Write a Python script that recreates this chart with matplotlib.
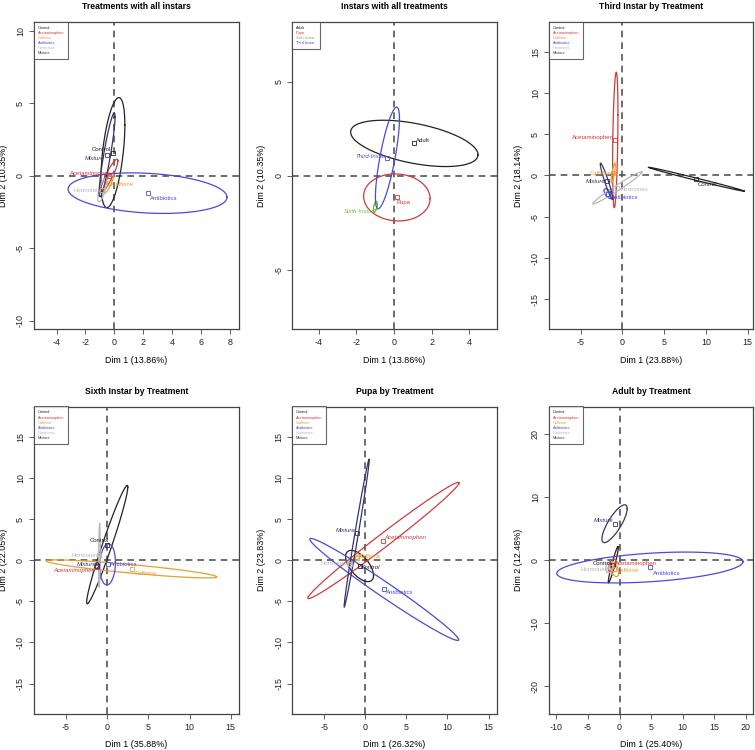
import numpy as np
import matplotlib
matplotlib.use("Agg")
import matplotlib.pyplot as plt
from matplotlib.lines import Line2D

plt.rcParams["font.family"] = ["Liberation Sans", "DejaVu Sans"]
plt.rcParams["axes.unicode_minus"] = False

# group names
treatments = ["Control", "Acetaminophen", "Caffeine", "Antibiotics", "Hormones", "Mixture"]
instars = ["Adult", "Pupa", "Sixth-Instar", "Third-Instar"]

# panel titles and axis percentages
titles = ["Treatments with all instars", "Instars with all treatments", "Third Instar by Treatment",
          "Sixth Instar by Treatment", "Pupa by Treatment", "Adult by Treatment"]
dim1_pct = [13.86, 13.86, 23.88, 35.88, 26.32, 25.40]
dim2_pct = [10.35, 10.35, 18.14, 22.05, 23.83, 12.48]

# group centres (Dim 1, Dim 2) and ellipse spread (sd x, sd y, correlation)
all_cx = [-0.1, -0.35, -0.4, 2.3, -0.85, -0.5]
all_cy = [1.6, 0.0, -0.5, -1.2, -1.0, 1.45]
all_sx = [0.83, 0.6, 0.35, 5.5, 0.3, 0.55]
all_sy = [3.8, 1.15, 0.7, 1.4, 0.8, 2.9]
all_rho = [0.5, 0.9, 0.8, -0.2, 0.7, 0.9]

inst_cx = [1.08, 0.15, -1.0, -0.35]
inst_cy = [1.72, -1.15, -1.65, 0.95]
inst_sx = [3.39, 1.77, 0.1, 0.64]
inst_sy = [1.23, 1.25, 0.3, 2.7]
inst_rho = [-0.49, -0.05, 0.5, 0.77]

third_cx = [8.85, -0.85, -1.1, -1.7, -0.6, -1.9]
third_cy = [-0.45, 4.3, 0.3, -2.2, -1.5, -0.7]
third_sx = [5.75, 0.32, 0.25, 0.5, 2.95, 0.75]
third_sy = [1.45, 8.2, 1.2, 0.6, 1.95, 2.2]
third_rho = [-0.995, 0.37, 0.8, -0.6, 0.98, -0.95]

sixth_cx = [0.0, -1.25, 2.95, 0.05, -0.95, -1.25]
sixth_cy = [1.9, -0.8, -1.05, -0.5, 0.6, -0.65]
sixth_sx = [2.5, 0.3, 10.35, 0.95, 0.1, 0.25]
sixth_sy = [7.2, 0.3, 1.1, 2.5, 3.9, 0.35]
sixth_rho = [0.97, 0.3, -0.88, 0.1, 0.3, 0.3]

pupa_cx = [-0.7, 2.2, -1.0, 2.3, -1.9, -1.05]
pupa_cy = [-0.7, 2.4, 0.3, -3.55, -0.4, 3.3]
pupa_sx = [1.7, 9.2, 0.5, 9.05, 0.3, 1.53]
pupa_sy = [1.9, 7.07, 0.4, 6.2, 0.3, 9.0]
pupa_rho = [-0.6, 0.99, 0.8, -0.985, 0.3, 0.99]

adult_cx = [-1.0, -1.2, -0.85, 4.8, -1.6, -0.8]
adult_cy = [-0.7, -0.8, -1.4, -1.15, -1.1, 5.8]
adult_sx = [0.8, 0.6, 0.7, 14.75, 0.6, 2.0]
adult_sy = [2.9, 1.0, 1.2, 2.45, 0.9, 3.0]
adult_rho = [0.95, 0.5, -0.5, 0.38, 0.2, 0.8]

# axis ranges and ticks
xlims = [(-5.56, 8.6), (-5.42, 5.47), (-8.8, 15.7), (-8.9, 15.96), (-8.9, 16.0), (-11.2, 21.2)]
ylims = [(-10.6, 10.64), (-8.15, 8.18), (-18.6, 18.6), (-18.7, 18.7), (-18.7, 18.7), (-24.4, 24.4)]
xticks = [range(-4, 9, 2), range(-4, 5, 2), range(-5, 16, 5), range(-5, 16, 5), range(-5, 16, 5), range(-10, 21, 5)]
yticks = [range(-10, 11, 5), range(-5, 6, 5), range(-15, 16, 5), range(-15, 16, 5), range(-15, 16, 5), range(-20, 21, 10)]

treat_cols = ["#222222", "#D03B3B", "#E8A033", "#4A4AD8", "#B8B8B8", "#35356E"]
inst_cols = ["#222222", "#D03B3B", "#6CC040", "#4A4AD8"]

# label placement: offset in points, alignment, italic
all_lab = [(-1, 2, "right", False), (2, 2, "right", False), (2, -1, "left", False),
           (2, -4, "left", False), (-1, 0, "right", False), (-2, -3, "right", True)]
inst_lab = [(1, 2, "left", False), (0, -4, "left", False), (-1, -3, "right", True), (-1, 1, "right", True)]
third_lab = [(1, -4, "left", True), (-1, 2, "right", False), (-1, 0, "right", False),
             (2, -3, "left", False), (2, -1, "left", False), (-1, 0, "right", True)]
sixth_lab = [(1, 3, "right", False), (-1, -3, "right", True), (2, -3, "left", False),
             (2, 0, "left", False), (0, 0, "right", False), (0, 1, "right", True)]
pupa_lab = [(1, -1, "left", True), (1, 2, "left", True), (1, 1, "left", False),
            (1, -2, "left", True), (-1, 0, "right", False), (-1, 2, "right", True)]
adult_lab = [(-1, 1, "right", False), (2, 1, "left", False), (2, -1, "left", False),
             (2, -4, "left", False), (-1, -2, "right", False), (-1, 2, "right", True)]

panels = [
    (treatments, treat_cols, all_cx, all_cy, all_sx, all_sy, all_rho, all_lab),
    (instars, inst_cols, inst_cx, inst_cy, inst_sx, inst_sy, inst_rho, inst_lab),
    (treatments, treat_cols, third_cx, third_cy, third_sx, third_sy, third_rho, third_lab),
    (treatments, treat_cols, sixth_cx, sixth_cy, sixth_sx, sixth_sy, sixth_rho, sixth_lab),
    (treatments, treat_cols, pupa_cx, pupa_cy, pupa_sx, pupa_sy, pupa_rho, pupa_lab),
    (treatments, treat_cols, adult_cx, adult_cy, adult_sx, adult_sy, adult_rho, adult_lab),
]

# axes boxes in figure fractions (left, bottom, width, height)
lefts = [0.045, 0.387, 0.727]
bottoms = [0.561, 0.048]

fig = plt.figure(figsize=(7.55, 7.5), dpi=100)
t = np.linspace(0, 2 * np.pi, 200)

for i, (names, cols, cx, cy, sx, sy, rho, lab) in enumerate(panels):
    ax = fig.add_axes([lefts[i % 3], bottoms[i // 3], 0.271, 0.41])
    ax.axhline(0, color="#555555", ls=(0, (4, 3)), lw=1.2, zorder=1)
    ax.axvline(0, color="#555555", ls=(0, (4, 3)), lw=1.2, zorder=1)
    for k, name in enumerate(names):
        r = rho[k]
        ex = cx[k] + sx[k] * np.cos(t)
        ey = cy[k] + sy[k] * (r * np.cos(t) + np.sqrt(1 - r ** 2) * np.sin(t))
        ax.plot(ex, ey, color=cols[k], lw=0.9, zorder=2)
        ax.plot(cx[k], cy[k], marker="s", ms=2.3, mfc="none", mec=cols[k], mew=0.6, zorder=3)
        dx, dy, ha, it = lab[k]
        ax.annotate(name, (cx[k], cy[k]), xytext=(dx, dy), textcoords="offset points",
                    ha=ha, va="center", fontsize=4.3, color=cols[k],
                    style="italic" if it else "normal", zorder=4)
    ax.set_xlim(*xlims[i])
    ax.set_ylim(*ylims[i])
    ax.set_xticks(list(xticks[i]))
    ax.set_yticks(list(yticks[i]))
    ax.tick_params(labelsize=6.4, length=3.5, width=0.6, pad=3, color="#444444", labelcolor="#222222")
    for lbl in ax.get_yticklabels():
        lbl.set_rotation(90)
        lbl.set_va("center")
    for s in ax.spines.values():
        s.set_color("#444444")
        s.set_linewidth(0.9)
    ax.set_xlabel("Dim 1 (%.2f%%)" % dim1_pct[i], fontsize=6.4, labelpad=6)
    ax.set_ylabel("Dim 2 (%.2f%%)" % dim2_pct[i], fontsize=6.4, labelpad=6)
    ax.set_title(titles[i], fontsize=6.2, fontweight="bold", pad=9)
    handles = [Line2D([], [], linestyle="none") for _ in names]
    leg = ax.legend(handles, names, loc="upper left", fontsize=2.8, frameon=True,
                    fancybox=False, borderaxespad=0, handlelength=0, handletextpad=0,
                    labelcolor=cols, borderpad=1.0, labelspacing=0.3)
    leg.get_frame().set_edgecolor("#444444")
    leg.get_frame().set_linewidth(0.8)

fig.savefig("out.png", dpi=100)
